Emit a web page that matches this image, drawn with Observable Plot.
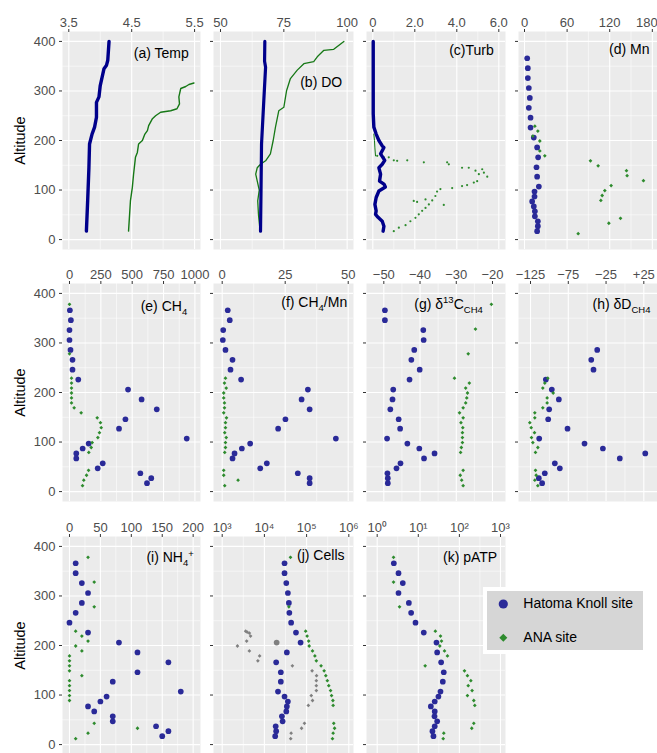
<!DOCTYPE html>
<html><head><meta charset="utf-8">
<script src="https://cdn.jsdelivr.net/npm/d3@7"></script>
<script src="https://cdn.jsdelivr.net/npm/@observablehq/plot@0.6"></script>
<style>
body{margin:0;background:#fff;}
#chart{position:relative;width:657px;height:753px;overflow:hidden;font-family:"Liberation Sans",Arial,Helvetica,sans-serif;background:#fff;}
#chart > svg{position:absolute;overflow:visible;}
#legend{position:absolute;left:483px;top:587px;border:4px solid #fff;background:#D6D6D6;width:156px;height:59px;}
#legend svg{position:absolute;left:0;top:0;}
</style></head><body><div id="chart"></div>
<script>
// ---------- data ----------
const hatAlt = [366,346,326,306,286,266,246,226,206,186,166,146,127,107,97,87,77,67,57,47,37,27,17];
const anaAlt = [378,328,278,229,219,209,199,189,179,169,159,149,139,129,119,109,99,89,79,43,33,23,12];

// (a) Temperature profiles
const tempHatAlt = [17,78,145,193,213,227,247,277,288,311,328,345,352,362,400];
const tempHat = [3.78,3.80,3.82,3.83,3.87,3.91,3.94,3.94,3.98,4.00,4.03,4.06,4.10,4.12,4.14];
const tempAnaAlt = [17,78,105,132,166,176,193,200,213,220,230,244,250,257,260,264,274,288,305,309,313,316];
const tempAna = [4.45,4.48,4.51,4.53,4.56,4.59,4.61,4.67,4.71,4.75,4.77,4.83,4.88,4.96,5.12,5.22,5.26,5.25,5.28,5.36,5.41,5.49];
// (b) DO profiles
const doHatAlt = [17,100,193,281,348,360,400];
const doHat = [65.8,66.0,66.2,67.1,67.8,67.4,67.5];
const doAnaAlt = [24,50,78,100,132,145,152,159,173,200,227,260,267,301,325,342,355,359,369,382,384,400];
const doAna = [65.5,65.0,64.7,65.3,63.9,64.5,65.8,67.8,69.7,70.8,71.7,73.0,75.0,76.1,77.6,80.3,82.9,86.8,88.2,90.8,94.7,98.7];
// (c) Turbidity
const turbHatAlt = [400,254,227,213,200,189,186,173,160,152,145,132,118,112,106,98,85,71,58,51,45,37,27,17];
const turbHat = [0.02,0.02,0.05,0.16,0.29,0.45,0.53,0.37,0.57,0.45,0.29,0.37,0.32,0.53,0.60,0.29,0.16,0.10,0.16,0.13,0.25,0.45,0.53,0.49];
const turbAnaLineAlt = [213,200,185,169];
const turbAnaLine = [0.05,0.08,0.10,0.13];
const turbAnaAlt = [169,166,166,160,159,160,156,156,152,145,145,139,142,135,132,127,118,115,110,108,104,102,97,88,79,71,64,58,51,44,37,29,24,17,78,76,81,70];
const turbAna = [0.21,0.53,0.76,1.0,1.16,1.64,2.43,3.54,3.62,4.25,4.57,4.89,5.21,5.29,5.05,5.45,4.97,4.81,4.49,4.25,3.78,3.22,3.06,2.98,2.83,2.67,2.51,2.35,2.19,2.03,1.79,1.56,1.24,1.0,1.95,2.11,2.51,3.38];
// (d) Mn
const mnHat = [3.8,4.7,4.7,6.1,7.5,6.1,8.5,8.5,13.1,17.8,19.2,16.9,17.8,20.2,14.1,14.1,10.8,13.1,14.6,14.6,18.8,18.8,17.8];
const mnAna = [null,null,null,14.6,18.8,11.7,21.6,null,21.6,28.6,92.9,103.7,143.6,144.5,167.5,122,113.1,109.4,107.5,135.2,118.8,null,75.6];
// (e) CH4
const ch4Hat = [3,11,0,0,8,24,24,70,467,575,696,446,395,935,153,105,54,54,265,225,565,652,618];
const ch4Ana = [0,null,0,16,16,16,16,16,16,37,93,221,247,253,239,226,181,173,154,152,136,114,104];
// (f) CH4/Mn
const ch4mnHat = [2.2,3.0,0.4,0.25,1.3,4.1,3.3,7.5,34,31.5,34.7,25.1,22.2,45.1,11.1,7.8,4.9,4.1,17.7,15.1,30.0,34.7,34.7];
const ch4mnAna = [null,null,null,1.3,0.9,1.6,0.6,0.6,0.9,0.9,0.6,1.7,1.3,1.3,1.0,1.6,1.3,1.3,1.0,0.6,0.6,6.3,1.0];
// (g) d13C-CH4
const d13cHat = [-49.7,-49.7,-39.1,-39.0,-41.6,-42.4,-40.1,-42.9,-47.4,-47.6,-48.2,-45.9,-45.5,-49.1,-43.5,-40.2,-36.0,-38.9,-45.4,-46.5,-49.0,-48.9,-48.9];
const d13cAna = [-20.3,-24.7,-26.7,-30.5,-26.4,-27.4,-26.9,-27.1,-27.4,-28.1,-29.1,-28.1,-28.7,-28.2,-28.3,-28.3,-28.3,-28.6,-28.8,-28.1,-28.9,-28.5,-28.1];
// (h) dD-CH4
const ddHat = [null,null,null,null,-36.7,-44.6,-41.6,-104.7,-96.8,-87.5,-100.3,-101.6,-76.0,-113.5,-53.5,-29.2,26.9,-6.8,-92.8,-86.2,-106.1,-114,-109.6];
const ddAna = [null,null,null,-102.1,-106.1,-108.7,-95,-103,-103,-108.7,-119.3,-119.3,-125.9,-124.1,-119.7,-123.7,-121.9,-115.3,-118.4,-118.4,-117.5,-119.3,-115.3];
// (i) NH4+
const nh4Hat = [10,10,20,30,20,10,0,30,80,110,160,110,70,180,60,50,30,40,70,70,140,160,150];
const nh4Ana = [30,40,40,10,20,30,10,20,0,0,0,0,20,0,0,0,0,0,null,40,110,30,10];
// (j) Cells
const cellsHat = [3.0e4,3.0e4,3.3e4,3.6e4,3.8e4,3.9e4,4.3e4,5.6e4,7.2e4,3.4e4,1.9e4,2.45e4,2.45e4,2.1e4,3.0e4,3.6e4,3.4e4,3.3e4,2.6e4,2.7e4,1.85e4,1.9e4,1.8e4];
const cellsAna = [4.15e4,null,3.8e4,9.5e4,1.03e5,1.12e5,1.15e5,1.38e5,1.57e5,1.7e5,2.2e5,2.6e5,2.85e5,3.1e5,3.35e5,3.7e5,3.9e5,4.2e5,4.25e5,4.4e5,4.6e5,4.25e5,4.1e5];
const cellsGrayAlt = [229,227,225,219,209,199,189,179,169,159,149,139,129,119,109,99,89,79,43,33,23,12];
const cellsGray = [3.6e3,3.9e3,4.4e3,4.7e3,3.8e3,2.3e3,4.4e3,7.7e3,7.0e3,4.6e4,1.35e5,1.72e5,1.7e5,1.7e5,1.7e5,1.29e5,1.38e5,1.1e5,8.9e4,7.6e4,4.3e4,4.2e4];
const cellsGrayCircAlt = [206];
const cellsGrayCirc = [1.95e4];
// (k) pATP
const patpHat = [2.54,3.3,4.2,3.3,5.9,6.7,8.55,13.6,27.7,28.8,36,41.7,39.5,34.7,30.9,25.1,20.2,25.1,24.8,28.8,25.1,22.1,23.4];
const patpAna = [2.5,2.5,3.5,26,34.7,36.7,33.4,43.4,51.3,null,14.7,133,157,190,164,204,157,224,237,224,200,41.7,40.4];

const yTicks = [0,100,200,300,400];
const yMinor = [50,150,250,350];
const legendLabels = ["Hatoma Knoll site","ANA site"];

// ---------- style ----------
const FONT = '"Liberation Sans", Arial, Helvetica, sans-serif';
const NAVY_PT = "#2a2a98", NAVY_LN = "#00008b", GREEN_PT = "#2e8b2e", GREEN_LN = "#167816", GRAY = "#808080";
const SUP = {"0":"⁰","1":"¹","2":"²","3":"³","4":"⁴","5":"⁵","6":"⁶"};
const minus = d => d < 0 ? "−" + Math.abs(d) : String(d);

const chart = document.getElementById("chart");

function hatDots(vals, alts = hatAlt) {
  return Plot.dot(vals, {x: vals, y: alts, r: 2.85, fill: NAVY_PT, stroke: null});
}
function anaDots(vals, alts = anaAlt, fill = GREEN_PT) {
  return Plot.dot(vals, {x: vals, y: alts, r: 1.7, symbol: "diamond2", fill, stroke: null});
}

function panel({col, row, x, marks, label, rich, ldx, ldy, lastDx = 0}) {
  const colLeft = [62,213,366,518][col], w = [138,140,139,139][col];
  const ml = col === 0 ? 62 : 14;
  const rowTop = [31,283,536][row];
  const mt = 31, h = 218;
  const {ticks, minor, fmt, ...scale} = x;
  const tf = fmt || (d => String(d));
  const axOpts = {anchor: "top", tickSize: 3, tickPadding: 2, tickFormat: tf, fontSize: 13, fill: "#4D4D4D", stroke: "#333"};
  const xAxes = lastDx
    ? [Plot.axisX(ticks.slice(0, -1), axOpts),
       Plot.axisX(ticks.slice(-1), {...axOpts, tickFormat: null, text: null}),
       Plot.text(ticks.slice(-1), {x: d => d, text: tf, frameAnchor: "top", dy: -5, dx: lastDx, lineAnchor: "bottom", fontSize: 13, fill: "#4D4D4D"})]
    : [Plot.axisX(ticks, axOpts)];
  const svg = Plot.plot({
    width: ml + w, height: mt + h,
    marginLeft: ml, marginTop: mt, marginRight: 0, marginBottom: 0,
    style: {background: "transparent", fontFamily: FONT, overflow: "visible"},
    x: {...scale, axis: null},
    y: {domain: [-20, 420], axis: null},
    marks: [
      Plot.frame({fill: "#EBEBEB", stroke: null}),
      Plot.gridX(minor, {stroke: "#fff", strokeOpacity: 1, strokeWidth: 0.55}),
      Plot.gridY(yMinor, {stroke: "#fff", strokeOpacity: 1, strokeWidth: 0.55}),
      Plot.gridX(ticks, {stroke: "#fff", strokeOpacity: 1, strokeWidth: 1.1}),
      Plot.gridY(yTicks, {stroke: "#fff", strokeOpacity: 1, strokeWidth: 1.1}),
      ...marks,
      ...xAxes,
      Plot.axisY(yTicks, {anchor: "left", tickSize: 3, tickPadding: 4, tickFormat: col === 0 ? (d => String(d)) : (() => ""), fontSize: 13, fill: "#4D4D4D", stroke: "#333"}),
      col === 0 ? Plot.text(["Altitude"], {text: d => d, frameAnchor: "left", dx: -42, rotate: -90, textAnchor: "middle", lineAnchor: "middle", fontSize: 14.5, fill: "#000"}) : null,
      Plot.text([label], {text: d => d, frameAnchor: "top-right", dx: ldx, dy: ldy, textAnchor: "end", lineAnchor: "middle", fontSize: 14, fill: "#000"})
    ]
  });
  svg.style.left = (colLeft - ml) + "px";
  svg.style.top = (rowTop - mt) + "px";
  if (rich) {
    d3.select(svg).selectAll("text").filter(function() { return this.textContent === label; }).each(function() {
      const el = d3.select(this);
      el.text(null);
      let cur = 0;
      for (const [s, kind] of rich) {
        const target = kind === "sub" ? 4 : kind === "sup" ? -5.5 : 0;
        const ts = el.append("tspan").text(s);
        if (kind) ts.attr("font-size", "9.5px");
        if (target !== cur) ts.attr("dy", target - cur);
        cur = target;
      }
    });
  }
  chart.appendChild(svg);
}

// Row 1
panel({col: 0, row: 0, label: "(a) Temp", ldx: -11.7, ldy: 22.3,
  x: {domain: [3.40, 5.594], ticks: [3.5,4.5,5.5], minor: [4,5], fmt: d => d.toFixed(1)},
  marks: [
    Plot.line(tempAna, {x: tempAna, y: tempAnaAlt, stroke: GREEN_LN, strokeWidth: 1.4}),
    Plot.line(tempHat, {x: tempHat, y: tempHatAlt, stroke: NAVY_LN, strokeWidth: 3.4})
  ]});
panel({col: 1, row: 0, label: "(b) DO", ldx: -11.3, ldy: 50.7,
  x: {domain: [47.24, 102.5], ticks: [50,75,100], minor: [62.5,87.5]},
  marks: [
    Plot.line(doAna, {x: doAna, y: doAnaAlt, stroke: GREEN_LN, strokeWidth: 1.3}),
    Plot.line(doHat, {x: doHat, y: doHatAlt, stroke: NAVY_LN, strokeWidth: 3.2})
  ]});
panel({col: 2, row: 0, label: "(c)Turb", ldx: -11.7, ldy: 19,
  x: {domain: [-0.30, 6.319], ticks: [0,2,4,6], minor: [1,3,5], fmt: d => d === 0 ? "0" : d.toFixed(1)},
  marks: [
    Plot.line(turbAnaLine, {x: turbAnaLine, y: turbAnaLineAlt, stroke: GREEN_LN, strokeWidth: 1}),
    Plot.dot(turbAna, {x: turbAna, y: turbAnaAlt, r: 1.1, fill: GREEN_PT, stroke: null}),
    Plot.line(turbHat, {x: turbHat, y: turbHatAlt, stroke: NAVY_LN, strokeWidth: 3.4})
  ]});
panel({col: 3, row: 0, label: "(d) Mn", ldx: -8, ldy: 18.3, lastDx: -5.5,
  x: {domain: [-8.45, 187.3], ticks: [0,60,120,180], minor: [30,90,150]},
  marks: [hatDots(mnHat), anaDots(mnAna)]});

// Row 2
panel({col: 0, row: 1, label: "(e) CH4", rich: [["(e) CH"],["4","sub"]], ldx: -13.3, ldy: 23.3,
  x: {domain: [-55.8, 1044.7], ticks: [0,250,500,750,1000], minor: [125,375,625,875]},
  marks: [hatDots(ch4Hat), anaDots(ch4Ana)]});
panel({col: 1, row: 1, label: "(f) CH4/Mn", rich: [["(f) CH"],["4","sub"],["/Mn"]], ldx: -6.3, ldy: 19.3,
  x: {domain: [-3.45, 52.1], ticks: [0,25,50], minor: [12.5,37.5]},
  marks: [hatDots(ch4mnHat), anaDots(ch4mnAna)]});
panel({col: 2, row: 1, label: "(g) δ13CCH4", rich: [["(g) δ"],["13","sup"],["C"],["CH4","sub"]], ldx: -22.7, ldy: 20.6,
  x: {domain: [-54.78, -16.41], ticks: [-50,-40,-30,-20], minor: [-45,-35,-25], fmt: minus},
  marks: [hatDots(d13cHat), anaDots(d13cAna)]});
panel({col: 3, row: 1, label: "(h) δDCH4", rich: [["(h) δD"],["CH4","sub"]], ldx: -7, ldy: 21,
  x: {domain: [-140.9, 43.1], ticks: [-125,-75,-25,25], minor: [-100,-50,0], fmt: d => d > 0 ? "+" + d : minus(d)},
  marks: [hatDots(ddHat), anaDots(ddAna)]});

// Row 3
panel({col: 0, row: 2, label: "(i) NH4+", rich: [["(i) NH"],["4","sub"],["+","sup"]], ldx: -6.7, ldy: 21.5,
  x: {domain: [-11.3, 211.9], ticks: [0,50,100,150,200], minor: [25,75,125,175]},
  marks: [hatDots(nh4Hat), anaDots(nh4Ana)]});
panel({col: 1, row: 2, label: "(j) Cells", ldx: -9, ldy: 19.2,
  x: {type: "log", domain: [10 ** 2.794, 10 ** 6.111], ticks: [1e3,1e4,1e5,1e6], minor: [10 ** 3.5, 10 ** 4.5, 10 ** 5.5], fmt: d => "10" + SUP[Math.round(Math.log10(d))]},
  marks: [
    anaDots(cellsGray, cellsGrayAlt, GRAY),
    Plot.dot(cellsGrayCirc, {x: cellsGrayCirc, y: cellsGrayCircAlt, r: 2.85, fill: GRAY, stroke: null}),
    hatDots(cellsHat), anaDots(cellsAna)
  ]});
panel({col: 2, row: 2, label: "(k) pATP", ldx: -8.3, ldy: 21,
  x: {type: "log", domain: [10 ** -0.26, 10 ** 3.122], ticks: [1,10,100,1000], minor: [10 ** 0.5, 10 ** 1.5, 10 ** 2.5], fmt: d => "10" + SUP[Math.round(Math.log10(d))]},
  marks: [hatDots(patpHat), anaDots(patpAna)]});

// Legend
const lg = document.createElement("div");
lg.id = "legend";
lg.innerHTML = `<svg width="156" height="59" font-family='${FONT}'>
  <circle cx="16.3" cy="13" r="4.6" fill="${NAVY_PT}"></circle>
  <path d="M16.3 42.8 L20.3 46.8 L16.3 50.8 L12.3 46.8 Z" fill="${GREEN_PT}"></path>
  <text x="36.3" y="12.5" dy="0.35em" font-size="14" fill="#000">${legendLabels[0]}</text>
  <text x="36.3" y="46.3" dy="0.35em" font-size="14" fill="#000">${legendLabels[1]}</text>
</svg>`;
chart.appendChild(lg);
</script></body></html>
